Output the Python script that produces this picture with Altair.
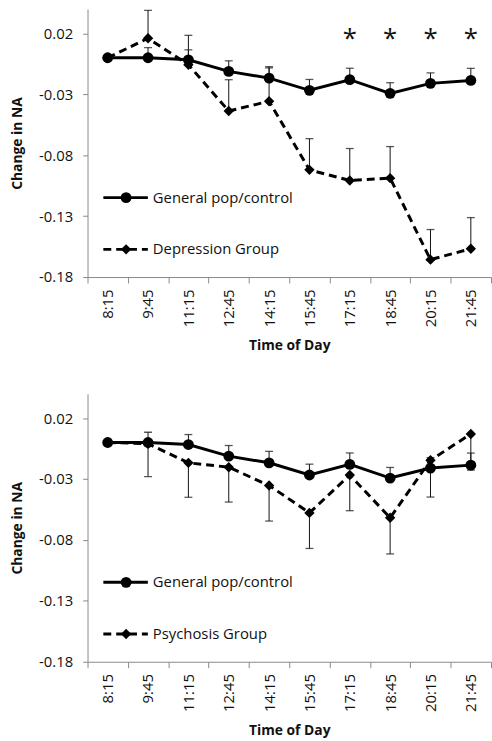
import altair as alt
import pandas as pd

# Times of the day at which negative affect (NA) was sampled
times = ["8:15", "9:45", "11:15", "12:45", "14:15", "15:45", "17:15", "18:45", "20:15", "21:45"]

# General population / control group: mean change in NA and upper error bound
general_mean = [0.0, 0.0, -0.0017, -0.0112, -0.0167, -0.0267, -0.0180, -0.0292, -0.0210, -0.0186]
general_upper = [None, 0.0084, 0.0065, -0.0025, -0.0073, -0.0178, -0.0086, -0.0205, -0.0124, -0.0087]

# Depression group: mean change in NA and upper error bound
depression_mean = [0.0, 0.0160, -0.0057, -0.0437, -0.0357, -0.0920, -0.1007, -0.0988, -0.1657, -0.1568]
depression_upper = [None, 0.0389, 0.0184, -0.0180, -0.0083, -0.0664, -0.0745, -0.0729, -0.1410, -0.1312]

# Psychosis group: mean change in NA and lower error bound
psychosis_mean = [0.0, -0.0010, -0.0167, -0.0203, -0.0353, -0.0578, -0.0267, -0.0618, -0.0146, 0.0070]
psychosis_lower = [None, -0.0280, -0.0450, -0.0489, -0.0645, -0.0870, -0.0560, -0.0915, -0.0448, -0.0227]

# Times where the depression group differs significantly from controls
significant_times = ["17:15", "18:45", "20:15", "21:45"]
star_level = 0.009

y_ticks = [-0.18, -0.13, -0.08, -0.03, 0.02]
y_domain = [-0.18, 0.04]

FONT = "Open Sans"
INK = "#111111"
AXIS_GREY = "#8a8a8a"
PLOT_W = 408
PLOT_H = 271
CIRCLE_SIZE = 120
DIAMOND_SIZE = 110


def panel(group_name, group_mean, group_err, show_stars):
    gen = pd.DataFrame({"time": times, "value": general_mean, "err": general_upper})
    grp = pd.DataFrame({"time": times, "value": group_mean, "err": group_err})
    gen_err = gen.dropna()
    grp_err = grp.dropna()

    x = alt.X(
        "time:N",
        sort=times,
        scale=alt.Scale(paddingInner=0, paddingOuter=0),
        axis=alt.Axis(
            title="Time of Day",
            labelAngle=-90,
            tickBand="extent",
            tickSize=6,
            labelPadding=6,
            titlePadding=12,
        ),
    )
    yscale = alt.Scale(domain=y_domain, nice=False, zero=False)
    yaxis = alt.Axis(
        title="Change in NA",
        values=y_ticks,
        labelExpr="(datum.value < 0 ? '-' : '') + format(abs(datum.value), '.2f')",
        tickSize=5,
        labelPadding=10,
        titlePadding=14,
        grid=False,
    )

    def y(field):
        return alt.Y(field, scale=yscale, axis=yaxis)

    layers = []
    # error bars with caps
    for d in (gen_err, grp_err):
        layers.append(
            alt.Chart(d).mark_rule(color=INK, strokeWidth=1).encode(x=x, y=y("value:Q"), y2="err:Q")
        )
        layers.append(
            alt.Chart(d).mark_tick(color=INK, thickness=1.3, size=8).encode(x=x, y=y("err:Q"))
        )
    # series lines and markers
    layers.append(alt.Chart(gen).mark_line(color="black", strokeWidth=3).encode(x=x, y=y("value:Q")))
    layers.append(
        alt.Chart(grp).mark_line(color="black", strokeWidth=3, strokeDash=[8, 5]).encode(x=x, y=y("value:Q"))
    )
    layers.append(
        alt.Chart(gen).mark_point(shape="circle", filled=True, size=CIRCLE_SIZE, color="black", opacity=1)
        .encode(x=x, y=y("value:Q"))
    )
    layers.append(
        alt.Chart(grp).mark_point(shape="diamond", filled=True, size=DIAMOND_SIZE, color="black", opacity=1)
        .encode(x=x, y=y("value:Q"))
    )

    # legend drawn inside the plot area
    entries = [("General pop/control", "circle", [], 190.7), (group_name, "diamond", [8, 5], 243)]
    for label, shape, dash, ly in entries:
        ld = pd.DataFrame({"label": [label]})
        rule = alt.Chart(ld).mark_rule(color="black", strokeWidth=3, strokeDash=dash if dash else [1, 0])
        layers.append(rule.encode(x=alt.value(16), x2=alt.value(61), y=alt.value(ly)))
        layers.append(
            alt.Chart(ld).mark_point(shape=shape, filled=True,
                                     size=CIRCLE_SIZE if shape == "circle" else DIAMOND_SIZE,
                                     color="black", opacity=1)
            .encode(x=alt.value(39), y=alt.value(ly))
        )
        layers.append(
            alt.Chart(ld).mark_text(align="left", baseline="middle", font=FONT, fontSize=15, color=INK)
            .encode(x=alt.value(66), y=alt.value(ly), text="label:N")
        )

    if show_stars:
        sd = pd.DataFrame({"time": significant_times, "mark": "*", "level": star_level})
        layers.append(
            alt.Chart(sd).mark_text(font=FONT, fontSize=26, color=INK, baseline="alphabetic")
            .encode(x=x, y=y("level:Q"), text="mark:N")
        )

    return alt.layer(*layers).properties(width=PLOT_W, height=PLOT_H)


top = panel("Depression Group", depression_mean, depression_upper, True)
bottom = panel("Psychosis Group", psychosis_mean, psychosis_lower, False)

chart = (
    alt.vconcat(top, bottom, spacing=41)
    .properties(padding={"left": 10.5, "top": 5, "right": 0, "bottom": 0}, background="white")
    .configure_view(stroke=None)
    .configure_axis(
        labelFont=FONT,
        titleFont=FONT,
        labelFontSize=15,
        titleFontSize=14,
        titleFontWeight="bold",
        labelColor=INK,
        titleColor=INK,
        domainColor=AXIS_GREY,
        tickColor=AXIS_GREY,
        domainWidth=1,
        tickWidth=1,
    )
)

chart.save("out.html", embed_options={"renderer": "svg", "actions": False})
